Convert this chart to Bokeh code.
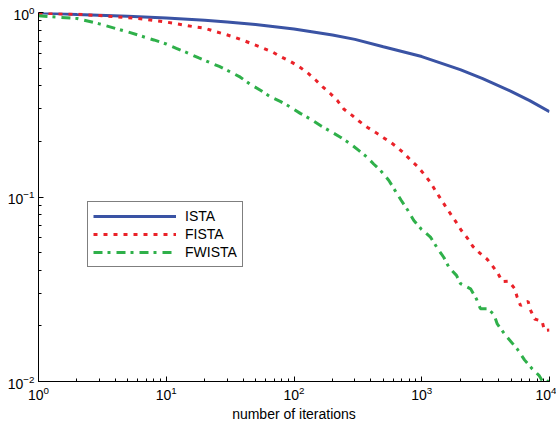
from bokeh.plotting import figure
from bokeh.models import Range1d, Legend, LegendItem, FixedTicker
from bokeh.embed import file_html
from bokeh.resources import INLINE

# ---- data ----
ista_iter = [1, 2, 5, 10, 20, 30, 50, 100, 200, 300, 500, 1000, 2000, 3000, 5000, 7000,
             10000]
ista_val = [0.996, 0.976, 0.953, 0.933, 0.908, 0.889, 0.861, 0.814, 0.755, 0.715, 0.652,
            0.577, 0.49, 0.438, 0.374, 0.333, 0.29]

fista_iter = [1, 2, 3, 4, 5, 6, 7, 8, 10, 12, 14, 16, 20, 24, 28, 34, 40, 48, 56, 68,
              78, 94, 109, 127, 147, 167, 193, 218, 245, 285, 322, 374, 435, 505, 570,
              643, 723, 816, 931, 1051, 1170, 1282, 1403, 1535, 1700, 1860, 2037, 2270,
              2512, 2850, 3250, 3560, 3945, 4270, 4800, 5320, 5590, 5930, 6800, 7080,
              7650, 8750, 9130, 10000]
fista_val = [0.991, 0.978, 0.962, 0.949, 0.938, 0.927, 0.917, 0.905, 0.887, 0.87, 0.853,
             0.84, 0.822, 0.79, 0.767, 0.735, 0.707, 0.672, 0.645, 0.61, 0.578, 0.542,
             0.51, 0.473, 0.432, 0.397, 0.363, 0.334, 0.30, 0.277, 0.258, 0.239, 0.224,
             0.209, 0.198, 0.186, 0.173, 0.159, 0.146, 0.132, 0.12, 0.108, 0.098, 0.089,
             0.080, 0.073, 0.066, 0.060, 0.054, 0.0496, 0.046, 0.0425, 0.0386, 0.0348,
             0.035, 0.032, 0.0286, 0.0258, 0.0272, 0.0245, 0.0218, 0.0212, 0.0189, 0.019]

fwista_iter = [1, 2, 3, 4, 5, 6, 7, 8, 10, 12, 15, 18, 20, 26, 32, 38, 45, 55, 65, 78,
               94, 112, 134, 161, 193, 231, 277, 321, 375, 420, 477, 553, 605, 690, 780,
               867, 990, 1170, 1320, 1490, 1630, 1870, 2010, 2410, 2680, 2880, 3290, 3670,
               3900, 4530, 5590, 6370, 7330, 8270, 8770, 9550, 10000]
fwista_val = [0.96, 0.928, 0.868, 0.82, 0.785, 0.755, 0.73, 0.71, 0.675, 0.64, 0.60,
              0.567, 0.55, 0.51, 0.475, 0.446, 0.41, 0.378, 0.35, 0.33, 0.307, 0.284,
              0.265, 0.244, 0.227, 0.211, 0.194, 0.179, 0.164, 0.151, 0.139, 0.123,
              0.111, 0.096, 0.0845, 0.0746, 0.067, 0.0606, 0.053, 0.047, 0.0416, 0.0376,
              0.0339, 0.0318, 0.028, 0.0248, 0.0248, 0.0231, 0.0205, 0.0178, 0.015,
              0.0131, 0.0117, 0.0108, 0.0101, 0.0099, 0.0102]

x_label = "number of iterations"
series_names = ["ISTA", "FISTA", "FWISTA"]
y_major = [0.01, 0.1, 1]

FONT = "Liberation Sans"

p = figure(width=556, height=429, x_axis_type="log", y_axis_type="log",
           x_range=Range1d(1, 10000), y_range=Range1d(0.01, 1),
           output_backend="svg", toolbar_location=None,
           min_border_left=38, min_border_right=7, min_border_top=12, min_border_bottom=48)
p.outline_line_color = None
p.grid.visible = False
p.background_fill_color = "white"
p.border_fill_color = "white"

r1 = p.line(ista_iter, ista_val, line_color="#3a53a4", line_width=3)
r2 = p.line(fista_iter, fista_val, line_color="#ea2229", line_width=3, line_dash="4 6")
r3 = p.line(fwista_iter, fwista_val, line_color="#2fb04a", line_width=3, line_dash="9 5 3 6")

y_minor = [k * d for d in y_major[:-1] for k in range(2, 10)]
p.yaxis[0].ticker = FixedTicker(ticks=y_major, minor_ticks=y_minor)

for ax in (p.xaxis[0], p.yaxis[0]):
    ax.axis_line_color = "black"
    ax.axis_line_width = 1
    ax.major_tick_in = 5
    ax.major_tick_out = 0
    ax.minor_tick_in = 3
    ax.minor_tick_out = 0
    ax.major_tick_line_color = "black"
    ax.minor_tick_line_color = "black"
    ax.major_label_text_font = FONT
    ax.major_label_text_font_size = "14px"
    ax.major_label_text_color = "black"
    ax.major_label_standoff = 4

p.xaxis.axis_label = x_label
p.xaxis.axis_label_text_font = FONT
p.xaxis.axis_label_text_font_size = "14px"
p.xaxis.axis_label_text_font_style = "normal"
p.xaxis.axis_label_text_color = "black"
p.xaxis.axis_label_standoff = 3

legend = Legend(items=[LegendItem(label=series_names[0], renderers=[r1]),
                       LegendItem(label=series_names[1], renderers=[r2]),
                       LegendItem(label=series_names[2], renderers=[r3])],
                location=(49, 114))
legend.border_line_color = "black"
legend.border_line_width = 1
legend.background_fill_color = "white"
legend.background_fill_alpha = 1
legend.padding = 5
legend.spacing = 0
legend.margin = 0
legend.label_height = 18
legend.glyph_height = 18
legend.glyph_width = 83
legend.label_standoff = 9
legend.label_text_font = FONT
legend.label_text_font_size = "14px"
legend.label_text_color = "black"
p.add_layout(legend, "center")

open("out.html", "w").write(file_html(p, INLINE))
